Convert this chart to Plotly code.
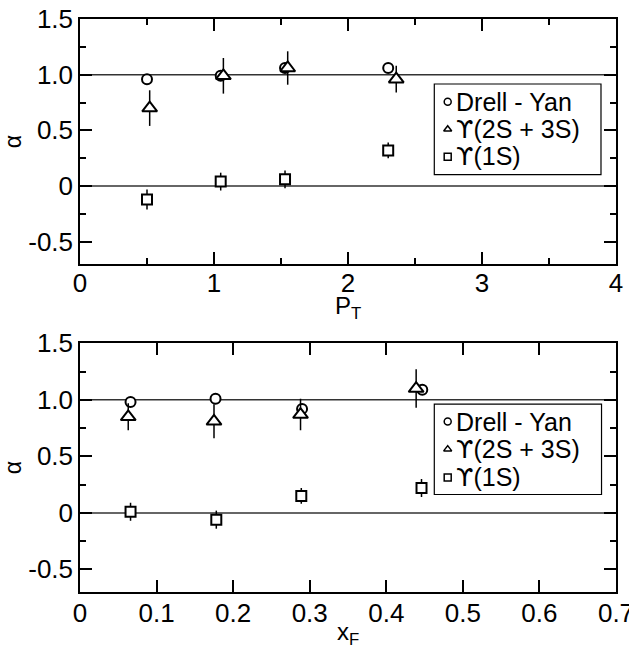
import plotly.graph_objects as go

# ---- data: top panel (vs P_T) ----
pt_dy_x = [0.50, 1.05, 1.53, 2.30]
pt_dy_y = [0.96, 0.99, 1.06, 1.06]
pt_u23_x = [0.52, 1.07, 1.55, 2.36]
pt_u23_y = [0.70, 0.99, 1.06, 0.96]
pt_u23_e = [0.16, 0.16, 0.15, 0.12]
pt_u1_x = [0.50, 1.05, 1.53, 2.30]
pt_u1_y = [-0.12, 0.04, 0.06, 0.32]
pt_u1_e = [0.09, 0.08, 0.08, 0.07]

# ---- data: bottom panel (vs x_F) ----
xf_dy_x = [0.066, 0.177, 0.290, 0.447]
xf_dy_y = [0.98, 1.01, 0.92, 1.09]
xf_u23_x = [0.063, 0.175, 0.288, 0.439]
xf_u23_y = [0.85, 0.81, 0.87, 1.10]
xf_u23_e = [0.12, 0.15, 0.14, 0.17]
xf_u1_x = [0.066, 0.178, 0.289, 0.446]
xf_u1_y = [0.01, -0.06, 0.15, 0.22]
xf_u1_e = [0.08, 0.08, 0.07, 0.08]

UPS = '<span style="font-family:DejaVu Sans">\u03d2</span>'
names = ["Drell - Yan", UPS + "(2S + 3S)", UPS + "(1S)"]
symbols = ["circle", "triangle-up", "square"]
ref_lines = [1.0, 0.0]
y_ticks = [-0.5, 0, 0.5, 1.0, 1.5]
y_ticklabels = ["-0.5", "0", "0.5", "1.0", "1.5"]
xf_ticks = [0, 0.1, 0.2, 0.3, 0.4, 0.5, 0.6, 0.7]
xf_ticklabels = ["0", "0.1", "0.2", "0.3", "0.4", "0.5", "0.6", "0.7"]

FONT = "Liberation Sans, Arial, sans-serif"
TICKSIZE = 26

fig = go.Figure()


def add_panel(xa, ya, xo, yo, dyx, dyy, u23x, u23y, u23e, u1x, u1y, u1e,
              box, rows, mark_x, text_x):
    fig.add_trace(go.Scatter(x=dyx, y=dyy, mode="markers", xaxis=xa, yaxis=ya,
                             name=names[0], showlegend=False,
                             marker=dict(symbol="circle", size=10, color="white",
                                         line=dict(color="black", width=2))))
    fig.add_trace(go.Scatter(x=u23x, y=u23y, mode="markers", xaxis=xa, yaxis=ya,
                             name="U(2S+3S)", showlegend=False,
                             error_y=dict(type="data", array=u23e, width=0,
                                          thickness=1.5, color="black"),
                             marker=dict(symbol="triangle-up", size=13, color="white",
                                         line=dict(color="black", width=2))))
    fig.add_trace(go.Scatter(x=u1x, y=u1y, mode="markers", xaxis=xa, yaxis=ya,
                             name="U(1S)", showlegend=False,
                             error_y=dict(type="data", array=u1e, width=0,
                                          thickness=1.5, color="black"),
                             marker=dict(symbol="square", size=10, color="white",
                                         line=dict(color="black", width=2))))
    for v in ref_lines:
        fig.add_shape(type="line", xref=f"{xa} domain", yref=ya, x0=0, x1=1, y0=v, y1=v,
                      line=dict(color="#333333", width=1.5), layer="below")
    # hand-drawn legend (box, symbols, labels)
    fig.add_shape(type="rect", xref=f"{xa} domain", yref=f"{ya} domain",
                  x0=box[0], x1=box[1], y0=box[2], y1=box[3],
                  line=dict(color="black", width=1.2), fillcolor="white", layer="below")
    fig.add_trace(go.Scatter(x=[mark_x] * 3, y=rows, mode="markers", xaxis=xo, yaxis=yo,
                             showlegend=False, hoverinfo="skip",
                             marker=dict(symbol=[s + "-open" for s in symbols], size=7,
                                         color="black", line=dict(width=1.5))))
    for r, nm in zip(rows, names):
        fig.add_annotation(xref=f"{xa} domain", yref=f"{ya} domain", x=text_x, y=r,
                           text=nm, showarrow=False, xanchor="left", yanchor="middle",
                           borderpad=0, font=dict(family=FONT, size=25, color="black"))


add_panel("x", "y", "x3", "y3", pt_dy_x, pt_dy_y, pt_u23_x, pt_u23_y, pt_u23_e,
          pt_u1_x, pt_u1_y, pt_u1_e,
          box=[0.661, 0.972, 0.7347, 0.3645], rows=[0.6624, 0.5498, 0.438],
          mark_x=0.686, text_x=0.699)
add_panel("x2", "y2", "x4", "y4", xf_dy_x, xf_dy_y, xf_u23_x, xf_u23_y, xf_u23_e,
          xf_u1_x, xf_u1_y, xf_u1_e,
          box=[0.661, 0.973, 0.7556, 0.392], rows=[0.6856, 0.5744, 0.4605],
          mark_x=0.686, text_x=0.699)

axis_common = dict(showline=True, linecolor="black", linewidth=1.5, mirror="allticks",
                   ticks="inside", ticklen=12, tickwidth=1.5, tickcolor="black",
                   showgrid=False, zeroline=False, automargin=False,
                   ticklabeloverflow="allow",
                   tickfont=dict(family=FONT, size=TICKSIZE, color="black"))

yaxis_common = dict(axis_common, range=[-0.7, 1.5], tickvals=y_ticks, ticktext=y_ticklabels,
                    minor=dict(ticks="inside", ticklen=6, tickwidth=1.5, tickcolor="black",
                               dtick=0.25, tick0=0, showgrid=False),
                    title=dict(text="\u03b1", font=dict(family=FONT, size=23, color="black"),
                               standoff=4))

hidden = dict(visible=False, range=[0, 1], showgrid=False, zeroline=False, automargin=False)

fig.update_layout(
    width=629, height=653,
    margin=dict(l=80, r=13, t=19, b=61),
    plot_bgcolor="white", paper_bgcolor="white",
    showlegend=False,
    xaxis=dict(axis_common, domain=[0, 1], anchor="y", range=[0, 4], dtick=1, tick0=0,
               ticklabelstandoff=-5,
               minor=dict(ticks="inside", ticklen=6, tickwidth=1.5, tickcolor="black",
                          dtick=0.5, tick0=0, showgrid=False)),
    yaxis=dict(yaxis_common, domain=[0.5724, 1.0], anchor="x"),
    xaxis2=dict(axis_common, domain=[0, 1], anchor="y2", range=[0, 0.7],
                ticklabelstandoff=-3,
                tickvals=xf_ticks, ticktext=xf_ticklabels),
    yaxis2=dict(yaxis_common, domain=[0.0, 0.434], anchor="x2"),
    xaxis3=dict(hidden, overlaying="x", anchor="y3"),
    yaxis3=dict(hidden, overlaying="y", anchor="x3"),
    xaxis4=dict(hidden, overlaying="x2", anchor="y4"),
    yaxis4=dict(hidden, overlaying="y2", anchor="x4"),
)

# axis titles placed as annotations (close to tick labels, as in the reference)
fig.add_annotation(xref="x domain", yref="paper", x=0.5, y=0.5724, yshift=-43,
                   text="P<sub>T</sub>", showarrow=False, yanchor="middle", borderpad=0,
                   font=dict(family=FONT, size=24, color="black"))
fig.add_annotation(xref="x2 domain", yref="paper", x=0.5, y=0.0, yshift=-41,
                   text="x<sub>F</sub>", showarrow=False, yanchor="middle", borderpad=0,
                   font=dict(family=FONT, size=24, color="black"))

fig.write_html("out.html")
